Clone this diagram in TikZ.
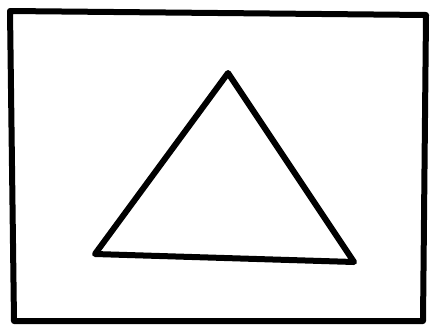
\documentclass[tikz,border=0pt]{standalone}
\usepackage{tikz}
\usetikzlibrary{positioning}

\begin{document}
\begin{tikzpicture}[x=1pt,y=-1pt,
    sketch/.style={line width=6pt,line join=round,line cap=round,black}]
  % Canvas
  \useasboundingbox (0,0) rectangle (433,325);
  
  % Frame
  \coordinate (tl) at (10,11);
  \coordinate (tr) at (426,15);
  \coordinate (br) at (423,321);
  \coordinate (bl) at (14,321);
  \draw[sketch] (tl) -- (tr) -- (br) -- (bl) -- cycle;
  
  % Triangle
  \coordinate (apex) at (228,73);
  \coordinate (left) at (95,254);
  \coordinate (right) at (354,262);
  \draw[sketch] (apex) -- (right) -- (left) -- cycle;
\end{tikzpicture}
\end{document}
